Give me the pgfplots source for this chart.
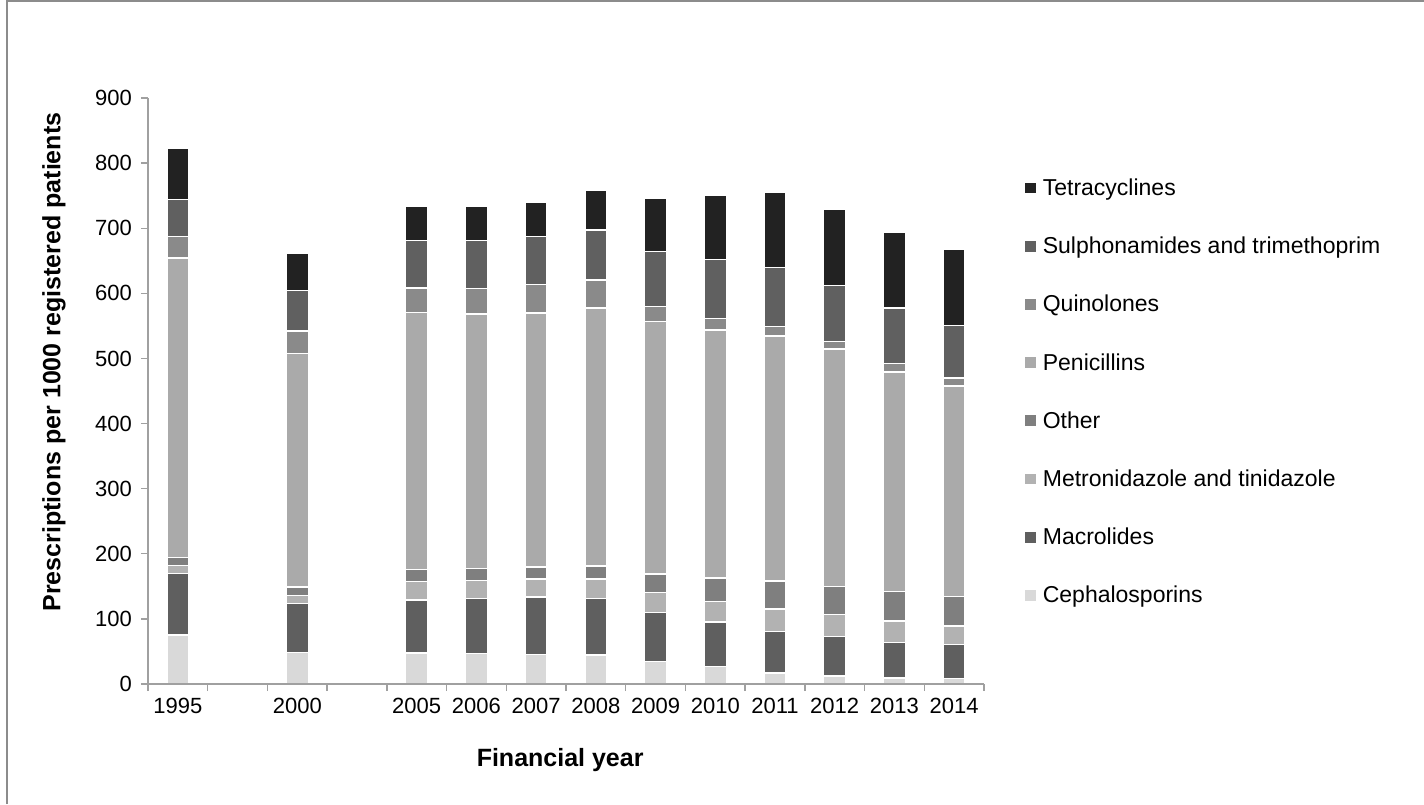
\documentclass[border=0pt]{standalone}
\usepackage{fontspec}
\setmainfont{Liberation Sans}
\usepackage{pgfplots}
\usepackage{pgfplotstable}
\pgfplotsset{compat=1.18}

\definecolor{ceph}{HTML}{D9D9D9}
\definecolor{macro}{HTML}{5F5F5F}
\definecolor{metro}{HTML}{B2B2B2}
\definecolor{other}{HTML}{7F7F7F}
\definecolor{pen}{HTML}{AAAAAA}
\definecolor{quin}{HTML}{8A8A8A}
\definecolor{sulph}{HTML}{606060}
\definecolor{tetra}{HTML}{222222}
\definecolor{axisgrey}{HTML}{A0A0A0}

% prescriptions per 1000 registered patients, slots 0..13 (1995, -, 2000, -, 2005..2014)
\pgfplotstableread{
x  ceph macro metro other pen   quin sulph tetra
0  75.5 94.5  12    12    460.5 33   56.5  79.5
2  48.7 75    12.4  12.8  359   34   62.8  57
4  47.5 81.5  28.5  18.5  394.5 37.5 73    53
5  47   84    28    18    391.5 39   73.5  52.5
6  45.5 88    27.5  18.5  390.5 44   73.5  52
7  44.5 87    29.5  20    396.5 43   76.5  60.5
8  34.5 75    31.5  28    387.5 23   85    82
9  27   68.5  31.5  36    381   17   91    99
10 17   64    34.5  42.5  376.5 14.5 90.5  115
11 12.5 60.5  33.5  43.5  364.5 12   86    116
12 9.5  54.5  32.5  46    337   12.5 85.5  115.5
13 8    53    28    45.5  323.5 12   81    117
}\abx

\begin{document}
\begin{tikzpicture}
\useasboundingbox (-74pt,-60pt) rectangle (638pt,342pt);
\draw[color=gray!90, line width=0.8pt] (-70.5pt,-60pt) -- (-70.5pt,341.6pt) -- (638pt,341.6pt);
\begin{axis}[
    scale only axis,
    width=418pt, height=293pt,
    ybar stacked, bar width=11pt,
    axis on top,
    xmin=-0.5, xmax=13.5, ymin=0, ymax=900,
    ytick={0,100,200,300,400,500,600,700,800,900},
    xtick={0,2,4,5,6,7,8,9,10,11,12,13},
    xticklabels={1995,2000,2005,2006,2007,2008,2009,2010,2011,2012,2013,2014},
    minor xtick={-0.5,0.5,1.5,2.5,3.5,4.5,5.5,6.5,7.5,8.5,9.5,10.5,11.5,12.5,13.5},
    major x tick style={draw=none},
    tick align=outside,
    major tick length=3.5pt, minor tick length=3.5pt,
    axis x line*=bottom, axis y line*=left,
    axis line style={-, draw=axisgrey, line width=0.7pt},
    every tick/.style={draw=axisgrey, line width=0.7pt},
    /pgf/number format/assume math mode=true,
    ticklabel style={font=\fontsize{11}{13}\selectfont},
    yticklabel style={xshift=-1pt},
    xlabel={Financial year},
    ylabel={Prescriptions per 1000 registered patients},
    label style={font=\bfseries\fontsize{12.5}{15}\selectfont},
    xlabel style={at={(axis description cs:0.493,-0.1297)}, anchor=center},
    ylabel style={at={(axis description cs:-0.1124,0.5495)}, anchor=center},
    every axis plot/.append style={draw=white, line width=0.7pt},
    reverse legend,
    legend cell align=left,
    legend style={at={(1.0418,0.497)}, anchor=west, draw=none, fill=none,
        font=\fontsize{11.5}{13}\selectfont, row sep=17.6pt,
        nodes={inner sep=0pt, text height=9pt, text depth=2.5pt}},
    legend image code/.code={\fill[#1,draw=none] (0pt,-2.2pt) rectangle (5.4pt,3.2pt); \path (8.4pt,0pt);},
]
\addplot[fill=ceph]  table[x=x, y=ceph]  {\abx};
\addplot[fill=macro] table[x=x, y=macro] {\abx};
\addplot[fill=metro] table[x=x, y=metro] {\abx};
\addplot[fill=other] table[x=x, y=other] {\abx};
\addplot[fill=pen]   table[x=x, y=pen]   {\abx};
\addplot[fill=quin]  table[x=x, y=quin]  {\abx};
\addplot[fill=sulph] table[x=x, y=sulph] {\abx};
\addplot[fill=tetra] table[x=x, y=tetra] {\abx};
\legend{Cephalosporins, Macrolides, Metronidazole and tinidazole, Other, Penicillins, Quinolones, Sulphonamides and trimethoprim, Tetracyclines}
\end{axis}
\end{tikzpicture}
\end{document}
